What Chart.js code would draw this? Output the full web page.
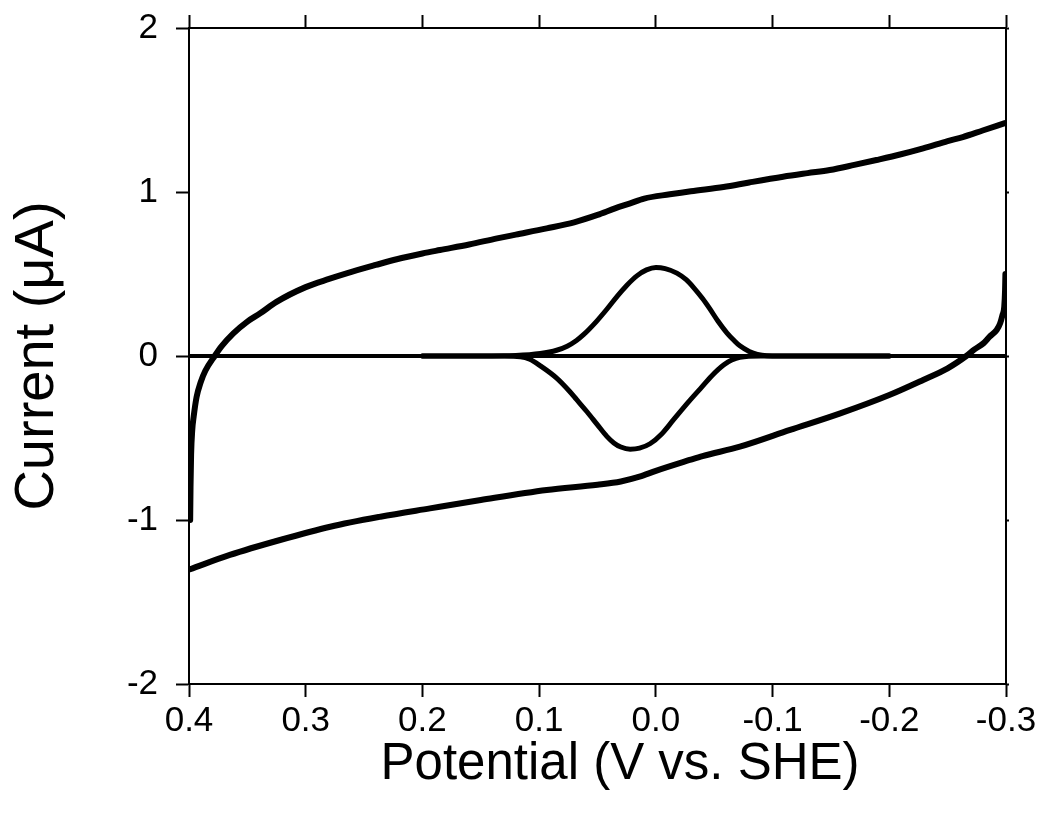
<!DOCTYPE html>
<html>
<head>
<meta charset="utf-8">
<script src="https://cdn.jsdelivr.net/npm/chart.js@4/dist/chart.umd.min.js"></script>
<style>
  html, body { margin: 0; padding: 0; background: #fff; }
  #wrap { width: 1041px; height: 819px; position: relative; }
</style>
</head>
<body>
<div id="wrap"><canvas id="c"></canvas></div>
<script>
// ---- Data ----
// Forward (anodic) capacitive scan, 0.4 V -> -0.3 V
const forwardPotential = [0.399, 0.3987, 0.3982, 0.3972, 0.396, 0.3935, 0.390, 0.386, 0.378, 0.372, 0.362, 0.350, 0.339, 0.325, 0.300, 0.280, 0.265, 0.240, 0.222, 0.200, 0.185, 0.160, 0.136, 0.120, 0.0935, 0.070, 0.050, 0.035, 0.022, 0.010, -0.012, -0.030, -0.058, -0.080, -0.109, -0.130, -0.149, -0.170, -0.189, -0.210, -0.229, -0.250, -0.263, -0.280, -0.299];
const forwardCurrent   = [-1.00, -0.80, -0.60, -0.45, -0.37, -0.25, -0.16, -0.09, 0.00, 0.06, 0.138, 0.21, 0.26, 0.33, 0.42, 0.47, 0.504, 0.555, 0.59, 0.625, 0.646, 0.68, 0.717, 0.74, 0.778, 0.815, 0.86, 0.90, 0.931, 0.96, 0.986, 1.005, 1.03, 1.058, 1.093, 1.115, 1.134, 1.165, 1.195, 1.23, 1.266, 1.31, 1.335, 1.375, 1.42];

// Reverse (cathodic) capacitive scan, -0.3 V -> 0.4 V
const reversePotential = [-0.2995, -0.2992, -0.2985, -0.297, -0.295, -0.292, -0.286, -0.2806, -0.273, -0.266, -0.250, -0.229, -0.200, -0.158, -0.115, -0.072, -0.040, -0.029, 0.000, 0.014, 0.030, 0.050, 0.0935, 0.150, 0.1935, 0.236, 0.279, 0.322, 0.365, 0.399];
const reverseCurrent   = [0.50, 0.40, 0.30, 0.25, 0.20, 0.159, 0.118, 0.077, 0.04, 0.00, -0.075, -0.146, -0.238, -0.35, -0.451, -0.553, -0.61, -0.634, -0.70, -0.736, -0.765, -0.785, -0.817, -0.878, -0.929, -0.98, -1.041, -1.122, -1.213, -1.30];

// Oxidation peak
const oxPotential = [0.200, 0.150, 0.120, 0.099, 0.085, 0.076, 0.068, 0.062, 0.051, 0.042, 0.033, 0.025, 0.016, 0.008, 0.000, -0.008, -0.018, -0.026, -0.032, -0.040, -0.046, -0.053, -0.061, -0.067, -0.072, -0.080, -0.087, -0.095, -0.120, -0.200];
const oxCurrent   = [0, 0, 0.003, 0.015, 0.035, 0.06, 0.095, 0.13, 0.21, 0.285, 0.365, 0.43, 0.49, 0.525, 0.54, 0.533, 0.505, 0.465, 0.42, 0.35, 0.29, 0.215, 0.14, 0.095, 0.062, 0.028, 0.01, 0.002, 0, 0];

// Reduction peak
const redPotential = [-0.200, -0.120, -0.090, -0.072, -0.065, -0.058, -0.048, -0.038, -0.028, -0.015, -0.005, 0.005, 0.014, 0.022, 0.030, 0.036, 0.042, 0.050, 0.059, 0.068, 0.074, 0.085, 0.099, 0.108, 0.116, 0.130, 0.200];
const redCurrent   = [0, 0, 0, -0.008, -0.025, -0.055, -0.12, -0.20, -0.28, -0.39, -0.475, -0.535, -0.562, -0.568, -0.555, -0.53, -0.49, -0.42, -0.34, -0.265, -0.215, -0.135, -0.06, -0.02, -0.004, 0, 0];

// Zero-current base line
const basePotential = [0.4, -0.3];
const baseCurrent   = [0, 0];

// Tick values and labels
const xTickValues = [0.4, 0.3, 0.2, 0.1, 0.0, -0.1, -0.2, -0.3];
const xTickLabels = ['0.4', '0.3', '0.2', '0.1', '0.0', '-0.1', '-0.2', '-0.3'];
const yTickValues = [-2, -1, 0, 1, 2];
const yTickLabels = ['-2', '-1', '0', '1', '2'];

const xTitle = 'Potential (V vs. SHE)';
const yTitle = 'Current (\u03BCA)';

// ---- Build chart ----
function pts(xs, ys) { return xs.map((x, i) => ({ x: x, y: ys[i] })); }
function labelFor(values, labels, v) {
  const i = values.findIndex(t => Math.abs(t - v) < 1e-6);
  return i >= 0 ? labels[i] : '';
}
const FONT = "'Liberation Sans', Arial, sans-serif";
const black = '#000000';

function lineSet(data, width) {
  return {
    data: data, borderColor: black, backgroundColor: black, borderWidth: width,
    showLine: true, pointRadius: 0, pointHoverRadius: 0,
    cubicInterpolationMode: 'monotone',
    fill: false, borderCapStyle: 'round', borderJoinStyle: 'round'
  };
}

const tickX = s => { s.ticks = xTickValues.map(v => ({ value: v })); };
const tickY = s => { s.ticks = yTickValues.map(v => ({ value: v })); };
const noPad = s => { s.paddingTop = 0; s.paddingBottom = 0; s.paddingLeft = 0; s.paddingRight = 0; };

// x-axis title drawn as text, centred where the reference has it
const xTitlePlugin = {
  id: 'xTitlePlugin',
  afterDraw(chart) {
    const ctx = chart.ctx;
    ctx.save();
    ctx.fillStyle = black;
    ctx.font = "51px " + FONT;
    ctx.textAlign = 'center';
    ctx.textBaseline = 'middle';
    ctx.fillText(xTitle, 620, 765);
    ctx.restore();
  }
};

new Chart(document.getElementById('c'), {
  type: 'scatter',
  data: {
    datasets: [
      lineSet(pts(basePotential, baseCurrent), 4),
      lineSet(pts(forwardPotential, forwardCurrent), 6),
      lineSet(pts(reversePotential, reverseCurrent), 6),
      lineSet(pts(oxPotential, oxCurrent), 5),
      lineSet(pts(redPotential, redCurrent), 5)
    ]
  },
  plugins: [xTitlePlugin],
  options: {
    responsive: true,
    maintainAspectRatio: false,
    devicePixelRatio: 1,
    animation: false,
    events: [],
    layout: { padding: 0 },
    plugins: { legend: { display: false }, tooltip: { enabled: false } },
    scales: {
      x: {
        type: 'linear', position: 'bottom', reverse: true, min: -0.3, max: 0.4,
        afterBuildTicks: tickX,
        afterFit: s => { s.height = 135; noPad(s); },
        grid: { display: true, drawOnChartArea: false, drawTicks: true, tickLength: 13, tickWidth: 2, tickColor: black },
        border: { display: true, color: black, width: 2 },
        ticks: { color: black, font: { family: FONT, size: 35 }, padding: 3, maxRotation: 0, autoSkip: false,
                 callback: v => labelFor(xTickValues, xTickLabels, v) },
        title: { display: false, text: xTitle }
      },
      xTop: {
        type: 'linear', position: 'top', reverse: true, min: -0.3, max: 0.4,
        afterBuildTicks: tickX,
        afterFit: s => { s.height = 28; noPad(s); },
        grid: { display: true, drawOnChartArea: false, drawTicks: true, tickLength: 13, tickWidth: 2, tickColor: black },
        border: { display: true, color: black, width: 2 },
        ticks: { display: false }
      },
      y: {
        type: 'linear', position: 'left', min: -2, max: 2,
        afterBuildTicks: tickY,
        afterFit: s => { s.width = 189; noPad(s); },
        grid: { display: true, drawOnChartArea: false, drawTicks: true, tickLength: 13, tickWidth: 2, tickColor: black },
        border: { display: true, color: black, width: 2 },
        ticks: { color: black, font: { family: FONT, size: 35 }, padding: 18,
                 callback: v => labelFor(yTickValues, yTickLabels, v) },
        title: { display: true, text: yTitle, color: black, font: { family: FONT, size: 56 }, padding: { top: 4, bottom: 0 } }
      },
      yRight: {
        type: 'linear', position: 'right', min: -2, max: 2,
        afterBuildTicks: tickY,
        afterFit: s => { s.width = 35; noPad(s); },
        grid: { display: true, drawOnChartArea: false, drawTicks: true, tickLength: 3, tickWidth: 2, tickColor: black },
        border: { display: true, color: black, width: 2 },
        ticks: { display: false }
      }
    }
  }
});
</script>
</body>
</html>
